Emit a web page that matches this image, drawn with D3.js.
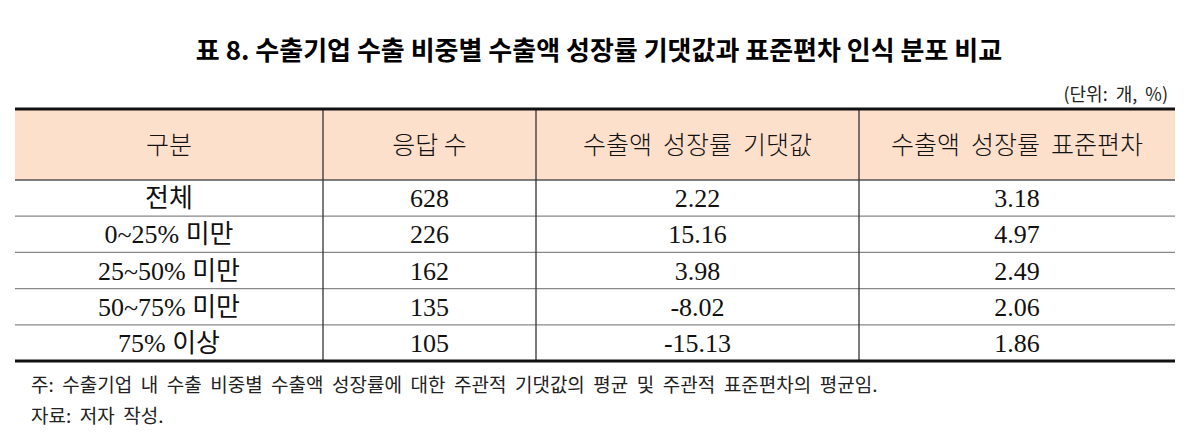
<!DOCTYPE html>
<html><head><meta charset="utf-8">
<script src="https://cdn.jsdelivr.net/npm/d3@7"></script>
<style>body{margin:0;background:#fff}</style>
</head><body>
<svg id="c" width="1199" height="447"></svg>
<script>
var headers = ["구분", "응답 수", "수출액  성장률  기댓값", "수출액  성장률  표준편차"];
var categories = ["전체", "0~25% 미만", "25~50% 미만", "50~75% 미만", "75% 이상"];
var counts = [628, 226, 162, 135, 105];
var expected = [2.22, 15.16, 3.98, -8.02, -15.13];
var stdevs = [3.18, 4.97, 2.49, 2.06, 1.86];

var rows = categories.map(function(c, i) {
  return [c, counts[i], expected[i].toFixed(2), stdevs[i].toFixed(2)];
});

var svg = d3.select("#c");
var colEdges = [15, 323, 536, 859, 1175];
var x = function(i) { return colEdges[i]; };
var tableTop = 109, headH = 71, rowH = 36.2;
var y = d3.scaleLinear().domain([0, rows.length]).range([tableTop + headH, tableTop + headH + rowH * rows.length]);
var bottom = y(rows.length);
var serif = "'Liberation Serif','Noto Sans CJK KR',serif";
var sans = "'Noto Sans CJK KR',sans-serif";

svg.append("text").attr("x", 599).attr("y", 60).attr("text-anchor", "middle")
  .style("font", "bold 26px " + sans).text("표 8. 수출기업 수출 비중별 수출액 성장률 기댓값과 표준편차 인식 분포 비교");
svg.append("text").attr("x", 1168).attr("y", 101).attr("text-anchor", "end")
  .style("font", "18px " + sans).style("white-space", "pre").attr("fill", "#222").text("(단위:  개,  %)");

svg.append("rect").attr("x", x(0)).attr("y", tableTop).attr("width", x(4) - x(0)).attr("height", headH)
  .attr("fill", "#fde0cc");

svg.selectAll(".h").data(headers).enter().append("text")
  .attr("x", function(d, i) { return (x(i) + x(i + 1)) / 2; })
  .attr("y", tableTop + headH / 2 + 9).attr("text-anchor", "middle")
  .style("font", "300 25px " + sans).style("white-space", "pre").attr("fill", "#111").text(function(d) { return d; });

rows.forEach(function(r, ri) {
  svg.selectAll(".r" + ri).data(r).enter().append("text")
    .attr("x", function(d, i) { return (x(i) + x(i + 1)) / 2; })
    .attr("y", y(ri) + rowH / 2 + 9).attr("text-anchor", "middle")
    .style("font", "26px " + serif).attr("fill", "#111").text(function(d) { return d; });
});

// horizontal row lines
svg.selectAll(".hl").data(d3.range(0, rows.length)).enter().append("line")
  .attr("x1", x(0)).attr("x2", x(4)).attr("y1", function(d) { return y(d); }).attr("y2", function(d) { return y(d); })
  .attr("stroke", function(d) { return d === 0 ? "#555" : "#888"; }).attr("stroke-width", 1.3);
// vertical lines
svg.selectAll(".vl").data([1, 2, 3]).enter().append("line")
  .attr("x1", x).attr("x2", x).attr("y1", tableTop).attr("y2", bottom)
  .attr("stroke", "#333").attr("stroke-width", 1.3);
svg.append("line").attr("x1", x(0)).attr("x2", x(4)).attr("y1", tableTop).attr("y2", tableTop).attr("stroke", "#111").attr("stroke-width", 3);
svg.append("line").attr("x1", x(0)).attr("x2", x(4)).attr("y1", bottom).attr("y2", bottom).attr("stroke", "#111").attr("stroke-width", 3);

svg.append("text").attr("x", 31).attr("y", bottom + 31).style("font", "19px " + sans).attr("fill", "#222")
  .style("white-space", "pre").text("주:  수출기업  내  수출  비중별  수출액  성장률에  대한  주관적  기댓값의  평균  및  주관적  표준편차의  평균임.");
svg.append("text").attr("x", 31).attr("y", bottom + 62).style("font", "19px " + sans).attr("fill", "#222")
  .style("white-space", "pre").text("자료:  저자  작성.");
</script>
</body></html>
